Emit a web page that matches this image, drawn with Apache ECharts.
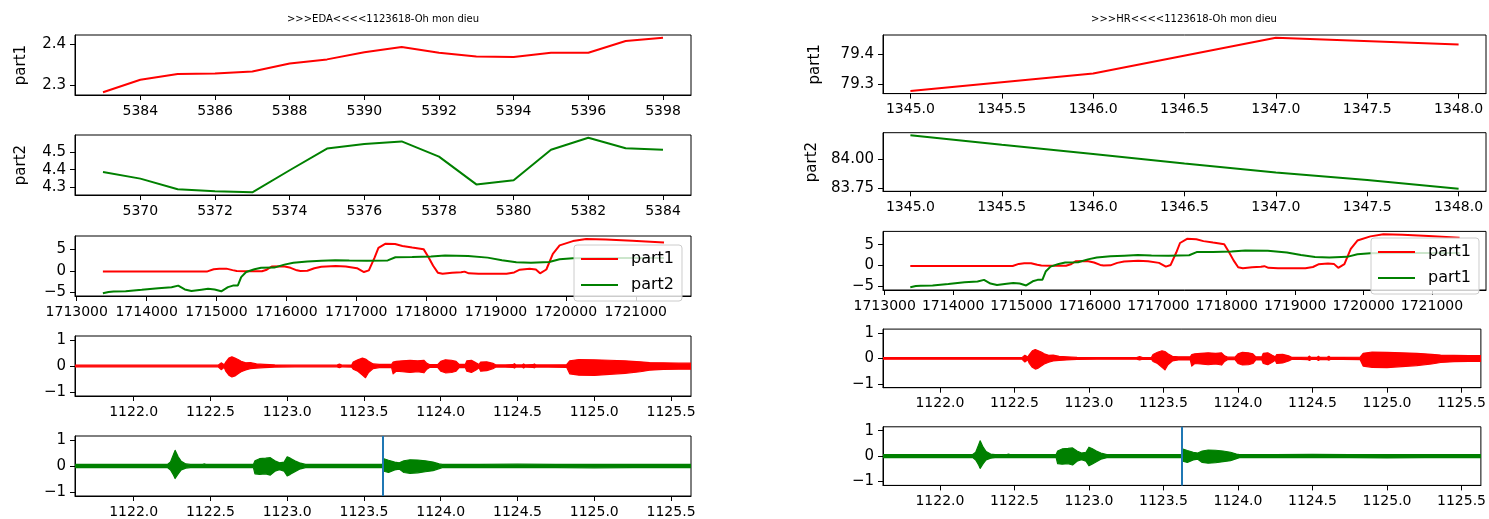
<!DOCTYPE html>
<html><head><meta charset="utf-8">
<script src="https://cdn.jsdelivr.net/npm/echarts@6.0.0/dist/echarts.min.js"></script>
<style>html,body{margin:0;padding:0;background:#fff}#c{width:1489px;height:519px}</style>
</head><body><div id="c"></div>
<script>
// ---------------- DATA ----------------
const titleLeft = '>>>EDA<<<<1123618-Oh mon dieu';
const titleRight = '>>>HR<<<<1123618-Oh mon dieu';

// Left panel 1 (EDA part1)
const edaP1X = [5383,5384,5385,5386,5387,5388,5389,5390,5391,5392,5393,5394,5395,5396,5397,5398];
const edaP1Y = [2.284,2.314,2.328,2.329,2.334,2.353,2.363,2.380,2.393,2.379,2.370,2.369,2.379,2.379,2.407,2.415];
const edaP1XTicks = [5384,5386,5388,5390,5392,5394,5396,5398];
const edaP1YTicks = [2.3,2.4];

// Left panel 2 (EDA part2)
const edaP2X = [5369,5370,5371,5372,5373,5374,5375,5376,5377,5378,5379,5380,5381,5382,5383,5384];
const edaP2Y = [4.387,4.349,4.288,4.277,4.271,4.397,4.521,4.547,4.562,4.475,4.316,4.340,4.514,4.583,4.523,4.514];
const edaP2XTicks = [5370,5372,5374,5376,5378,5380,5382,5384];
const edaP2YTicks = [4.3,4.4,4.5];

// Right panel 1 (HR part1)
const hrP1X = [1345,1346,1347,1348];
const hrP1Y = [79.277,79.336,79.457,79.434];
const hrP1YTicks = [79.3,79.4];
// Right panel 2 (HR part2)
const hrP2X = [1345.0,1345.5,1346.0,1346.5,1347.0,1347.5,1348.0];
const hrP2Y = [84.206,84.124,84.044,83.962,83.885,83.818,83.744];
const hrP2YTicks = [83.75,84.00];
const hrXTicks = [1345.0,1345.5,1346.0,1346.5,1347.0,1347.5,1348.0];

// Panel 3 (both columns): part1 (red) and part2 (green) over time
const p3RedX = [1713374,1714870,1714960,1715040,1715140,1715230,1715290,1715400,1715650,1715719,1715790,1715960,1716060,1716150,1716200,1716300,1716400,1716500,1716705,1716850,1717010,1717110,1717180,1717262,1717317,1717420,1717555,1717660,1717800,1717963,1718030,1718100,1718167,1718235,1718370,1718500,1718550,1718610,1718750,1719150,1719260,1719340,1719480,1719570,1719630,1719720,1719813,1719910,1720100,1720290,1720570,1720950,1721404];
const p3RedY = [-0.15,-0.15,0.35,0.5,0.5,0.15,-0.05,-0.1,-0.1,0.25,1.0,1.05,0.7,0.1,-0.05,0.0,0.6,0.95,1.1,1.0,0.6,-0.3,0.1,3.1,5.4,6.4,6.3,5.85,5.5,5.1,3.3,1.2,-0.45,-0.7,-0.45,-0.35,-0.2,-0.6,-0.7,-0.7,-0.4,0.25,0.45,0.3,-0.6,0.3,4.0,6.0,7.0,7.5,7.4,7.1,6.65];
const p3GreenX = [1713374,1713455,1713527,1713700,1713930,1714167,1714357,1714452,1714546,1714641,1714784,1714879,1714973,1715068,1715164,1715235,1715306,1715353,1715424,1715543,1715638,1715827,1715970,1716100,1716300,1716500,1716700,1716900,1717150,1717450,1717560,1717800,1718070,1718270,1718600,1718880,1719085,1719290,1719500,1719760,1719910,1720100,1720500,1721000,1721404];
const p3GreenY = [-5.3,-5.0,-4.9,-4.85,-4.5,-4.1,-3.9,-3.5,-4.4,-4.75,-4.45,-4.25,-4.4,-4.85,-3.85,-3.5,-3.45,-1.5,-0.3,0.35,0.7,0.75,1.45,1.9,2.2,2.35,2.5,2.4,2.35,2.45,3.2,3.25,3.35,3.6,3.5,3.1,2.5,2.0,1.9,2.05,2.7,2.95,3.0,3.0,3.0];
const p3XTicks = [1713000,1714000,1715000,1716000,1717000,1718000,1719000,1720000,1721000];
const p3YTicks = [-5,0,5];

// Panel 4: red waveform envelope (time, upper, lower)
const p4T  = [1121.62,1121.90,1122.20,1122.55,1122.57,1122.59,1122.60,1122.62,1122.64,1122.66,1122.68,1122.70,1122.73,1122.76,1122.80,1122.85,1122.92,1123.05,1123.20,1123.32,1123.34,1123.36,1123.42,1123.43,1123.46,1123.49,1123.51,1123.53,1123.56,1123.60,1123.68,1123.69,1123.71,1123.75,1123.80,1123.85,1123.89,1123.91,1123.93,1123.98,1124.00,1124.03,1124.07,1124.10,1124.12,1124.16,1124.17,1124.20,1124.23,1124.25,1124.26,1124.30,1124.34,1124.36,1124.42,1124.47,1124.48,1124.49,1124.53,1124.54,1124.55,1124.60,1124.61,1124.62,1124.70,1124.82,1124.84,1124.90,1125.00,1125.10,1125.20,1125.30,1125.36,1125.45,1125.55,1125.63];
const p4Up = [0.03,0.03,0.03,0.03,0.12,0.05,0.15,0.30,0.35,0.30,0.25,0.18,0.12,0.13,0.08,0.06,0.04,0.03,0.03,0.03,0.07,0.03,0.04,0.15,0.24,0.30,0.27,0.18,0.08,0.06,0.06,0.15,0.18,0.20,0.22,0.20,0.22,0.10,0.05,0.05,0.18,0.24,0.22,0.18,0.06,0.06,0.20,0.22,0.12,0.06,0.15,0.16,0.10,0.04,0.04,0.05,0.09,0.04,0.04,0.08,0.04,0.05,0.08,0.04,0.04,0.05,0.20,0.25,0.24,0.22,0.20,0.16,0.13,0.12,0.11,0.11];
const p4Lo = [-0.03,-0.03,-0.03,-0.03,-0.14,-0.05,-0.20,-0.35,-0.42,-0.38,-0.30,-0.22,-0.15,-0.10,-0.08,-0.06,-0.04,-0.03,-0.03,-0.03,-0.06,-0.03,-0.04,-0.12,-0.20,-0.35,-0.45,-0.25,-0.10,-0.06,-0.06,-0.30,-0.20,-0.22,-0.25,-0.22,-0.26,-0.12,-0.05,-0.05,-0.20,-0.26,-0.25,-0.20,-0.06,-0.06,-0.20,-0.25,-0.15,-0.07,-0.20,-0.18,-0.10,-0.04,-0.04,-0.05,-0.08,-0.04,-0.04,-0.08,-0.04,-0.05,-0.07,-0.04,-0.04,-0.05,-0.30,-0.35,-0.36,-0.32,-0.28,-0.22,-0.16,-0.13,-0.12,-0.12];

// Panel 5: green waveform envelope (time, upper, lower)
const p5T  = [1121.62,1121.90,1122.22,1122.24,1122.26,1122.27,1122.29,1122.31,1122.34,1122.37,1122.45,1122.46,1122.47,1122.60,1122.78,1122.79,1122.82,1122.86,1122.89,1122.92,1122.95,1122.98,1123.00,1123.02,1123.05,1123.08,1123.12,1123.30,1123.45,1123.62,1123.63,1123.66,1123.70,1123.73,1123.76,1123.80,1123.85,1123.90,1123.95,1123.99,1124.01,1124.25,1124.50,1124.75,1125.00,1125.25,1125.45,1125.63];
const p5Up = [0.06,0.06,0.06,0.15,0.45,0.60,0.35,0.18,0.08,0.06,0.06,0.08,0.06,0.06,0.06,0.20,0.28,0.30,0.32,0.20,0.12,0.15,0.35,0.30,0.20,0.12,0.06,0.06,0.06,0.06,0.28,0.22,0.15,0.12,0.20,0.24,0.23,0.20,0.15,0.08,0.06,0.06,0.07,0.06,0.06,0.06,0.06,0.06];
const p5Lo = [-0.06,-0.06,-0.06,-0.15,-0.35,-0.48,-0.30,-0.15,-0.08,-0.06,-0.06,-0.06,-0.06,-0.06,-0.06,-0.30,-0.32,-0.30,-0.35,-0.20,-0.14,-0.20,-0.38,-0.32,-0.22,-0.12,-0.06,-0.06,-0.06,-0.06,-0.20,-0.25,-0.15,-0.12,-0.25,-0.28,-0.26,-0.22,-0.18,-0.10,-0.06,-0.06,-0.06,-0.06,-0.07,-0.06,-0.06,-0.06];
const cursorTime = 1123.62;
const waveXTicks = [1122.0,1122.5,1123.0,1123.5,1124.0,1124.5,1125.0,1125.5];
const waveYTicks = [-1,0,1];

// ---------------- BUILD ----------------
const FONT = 'DejaVu Sans';
const RED = '#ff0000', GREEN = '#008000';
const minus = s => String(s).replace('-', '\u2212');
const grids = [], xAxes = [], yAxes = [], series = [];

function panel(p) {
  const i = grids.length;
  grids.push({left: p.left, top: p.top, width: p.width, height: p.height, show: true,
    borderColor: '#000', borderWidth: 1, backgroundColor: '#fff'});
  xAxes.push({gridIndex: i, type: 'value', min: p.xmin, max: p.xmax,
    axisLine: {show: true, onZero: false, lineStyle: {color: '#000', width: 1}},
    axisTick: {show: true, length: 5, lineStyle: {color: '#000', width: 1}, customValues: p.xticks},
    axisLabel: {customValues: p.xticks, formatter: p.xfmt, margin: 9, color: '#000', fontFamily: FONT, fontSize: 14},
    splitLine: {show: false}});
  yAxes.push({gridIndex: i, type: 'value', min: p.ymin, max: p.ymax,
    name: p.yname || '', nameLocation: 'middle', nameRotate: 90, nameGap: p.nameGap || 40,
    nameTextStyle: {color: '#000', fontFamily: FONT, fontSize: 15},
    axisLine: {show: true, onZero: false, lineStyle: {color: '#000', width: 1}},
    axisTick: {show: true, length: 5, lineStyle: {color: '#000', width: 1}, customValues: p.yticks},
    axisLabel: {customValues: p.yticks, formatter: p.yfmt, margin: 9, color: '#000', fontFamily: FONT, fontSize: 15},
    splitLine: {show: false}});
  return i;
}
function line(i, name, xs, ys, color) {
  series.push({type: 'line', name: name, xAxisIndex: i, yAxisIndex: i,
    data: xs.map((x, k) => [x, ys[k]]), symbol: 'none', showSymbol: false,
    lineStyle: {color: color, width: 2}, itemStyle: {color: color}, z: 3});
}
// Waveform drawn as one filled envelope polygon (upper edge forward, lower edge back)
function band(i, name, ts, up, lo, color, mark) {
  const s = {type: 'custom', name: name, xAxisIndex: i, yAxisIndex: i, clip: true,
    data: ts.map((t, k) => [t, up[k], lo[k]]),
    encode: {x: 0, y: [1, 2]},
    renderItem: function (params, api) {
      if (params.dataIndex !== 0) return null;
      const pts = [];
      for (let k = 0; k < ts.length; k++) pts.push(api.coord([ts[k], up[k]]));
      for (let k = ts.length - 1; k >= 0; k--) pts.push(api.coord([ts[k], lo[k]]));
      return {type: 'polygon', shape: {points: pts},
        style: {fill: color, stroke: color, lineWidth: 1.2, lineJoin: 'round'}};
    }, z: 2};
  if (mark) {
    s.markLine = {symbol: 'none', silent: true, label: {show: false}, animation: false,
      lineStyle: {color: '#1f77b4', width: 2, type: 'solid'}, data: [{xAxis: mark}]};
  }
  series.push(s);
}
const f0 = v => String(v);
const f1 = v => v.toFixed(1);
const f2 = v => v.toFixed(2);
const fm = v => minus(v);

function column(c) {
  const L = c.left, W = c.width, H = c.height, T = c.tops;
  let i;
  if (c.eda) {
    i = panel({left: L, top: T[0], width: W, height: H, xmin: 5382.25, xmax: 5398.75, xticks: edaP1XTicks, xfmt: f0,
      ymin: 2.2774, ymax: 2.4216, yticks: edaP1YTicks, yfmt: f1, yname: 'part1', nameGap: c.gap1});
    line(i, 'EDA part1', edaP1X, edaP1Y, RED);
    i = panel({left: L, top: T[1], width: W, height: H, xmin: 5368.25, xmax: 5384.75, xticks: edaP2XTicks, xfmt: f0,
      ymin: 4.2554, ymax: 4.5986, yticks: edaP2YTicks, yfmt: f1, yname: 'part2', nameGap: c.gap2});
    line(i, 'EDA part2', edaP2X, edaP2Y, GREEN);
  } else {
    i = panel({left: L, top: T[0], width: W, height: H, xmin: 1344.85, xmax: 1348.15, xticks: hrXTicks, xfmt: f1,
      ymin: 79.268, ymax: 79.466, yticks: hrP1YTicks, yfmt: f1, yname: 'part1', nameGap: c.gap1});
    line(i, 'HR part1', hrP1X, hrP1Y, RED);
    i = panel({left: L, top: T[1], width: W, height: H, xmin: 1344.85, xmax: 1348.15, xticks: hrXTicks, xfmt: f1,
      ymin: 83.721, ymax: 84.229, yticks: hrP2YTicks, yfmt: f2, yname: 'part2', nameGap: c.gap2});
    line(i, 'HR part2', hrP2X, hrP2Y, GREEN);
  }
  i = panel({left: L, top: T[2], width: W, height: H, xmin: 1712975, xmax: 1721790, xticks: p3XTicks, xfmt: f0,
    ymin: -5.95, ymax: 8.2, yticks: p3YTicks, yfmt: fm});
  line(i, c.n1, p3RedX, p3RedY, RED);
  line(i, c.n2, p3GreenX, p3GreenY, GREEN);
  i = panel({left: L, top: T[3], width: W, height: H, xmin: 1121.618, xmax: 1125.63, xticks: waveXTicks, xfmt: f1,
    ymin: -1.15, ymax: 1.15, yticks: waveYTicks, yfmt: fm});
  band(i, 'wave1', p4T, p4Up, p4Lo, RED);
  i = panel({left: L, top: T[4], width: W, height: H, xmin: 1121.618, xmax: 1125.63, xticks: waveXTicks, xfmt: f1,
    ymin: -1.15, ymax: 1.15, yticks: waveYTicks, yfmt: fm});
  band(i, 'wave2', p5T, p5Up, p5Lo, GREEN, cursorTime);
}

column({eda: true, left: 75, width: 616, height: 60, tops: [35, 135, 236, 336, 436], gap1: 46, gap2: 46, n1: 'part1', n2: 'part2'});
column({eda: false, left: 883, width: 603, height: 58.6, tops: [35, 132.7, 231.4, 329.1, 426.8], gap1: 60, gap2: 63, n1: 'part1', n2: 'part1 '});

const legendBase = {orient: 'vertical', itemWidth: 37, itemHeight: 14, itemGap: 10,
  backgroundColor: 'rgba(255,255,255,0.8)', borderColor: '#cccccc', borderWidth: 1, borderRadius: 3,
  padding: [6, 8, 8, 6], formatter: n => n.trim(),
  itemStyle: {opacity: 0},
  textStyle: {color: '#000', fontFamily: FONT, fontSize: 16, padding: [0, 0, 0, 8]}, z: 10};

const option = {
  animation: false,
  backgroundColor: '#fff',
  grid: grids, xAxis: xAxes, yAxis: yAxes, series: series,
  legend: [
    Object.assign({}, legendBase, {left: 574, top: 245, data: ['part1', 'part2']}),
    Object.assign({}, legendBase, {left: 1371, top: 238, data: ['part1', 'part1 ']})
  ],
  graphic: [
    {type: 'text', x: 383, y: 19, style: {text: titleLeft, fill: '#000', font: '10px "DejaVu Sans"', textAlign: 'center', textVerticalAlign: 'middle'}},
    {type: 'text', x: 1184, y: 19, style: {text: titleRight, fill: '#000', font: '10px "DejaVu Sans"', textAlign: 'center', textVerticalAlign: 'middle'}}
  ]
};
const chart = echarts.init(document.getElementById('c'), null, {renderer: 'canvas'});
chart.setOption(option);
</script></body></html>
